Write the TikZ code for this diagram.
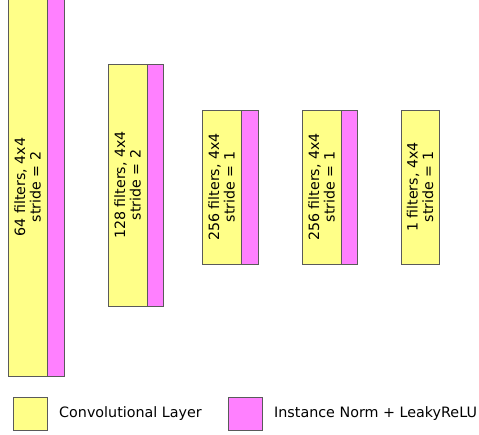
\documentclass[tikz,border=0pt]{standalone}
\usepackage{fontspec}
\setmainfont{DejaVu Sans}
\definecolor{convY}{RGB}{255,255,136}
\definecolor{normP}{RGB}{255,128,255}
\definecolor{edgeG}{RGB}{90,90,90}
\begin{document}
\begin{tikzpicture}[x=1pt,y=-1pt,
  box/.style={draw=edgeG,line width=0.8pt,inner sep=0pt,outer sep=0pt,anchor=north west},
  conv/.style={box,fill=convY},
  norm/.style={box,fill=normP},
  lbl/.style={rotate=90,align=center,font=\fontsize{14.2}{15.5}\selectfont,inner sep=0pt},
  legtxt/.style={anchor=west,font=\fontsize{14.3}{16}\selectfont,inner sep=0pt}]
\useasboundingbox (0,0) rectangle (479,435);
% layer 1
\node[conv,minimum width=39pt,minimum height=378pt] (c1) at (8,-2) {};
\node[norm,minimum width=17pt,minimum height=378pt] (n1) at (47,-2) {};
\node[lbl] (t1) at (c1.center) {64 filters, 4x4\\stride = 2};
% layer 2
\node[conv,minimum width=39pt,minimum height=242pt] (c2) at (108,64) {};
\node[norm,minimum width=16pt,minimum height=242pt] (n2) at (147,64) {};
\node[lbl] (t2) at (c2.center) {128 filters, 4x4\\stride = 2};
% layer 3
\node[conv,minimum width=39pt,minimum height=154pt] (c3) at (202,110) {};
\node[norm,minimum width=17pt,minimum height=154pt] (n3) at (241,110) {};
\node[lbl] (t3) at (c3.center) {256 filters, 4x4\\stride = 1};
% layer 4
\node[conv,minimum width=39pt,minimum height=154pt] (c4) at (302,110) {};
\node[norm,minimum width=16pt,minimum height=154pt] (n4) at (341,110) {};
\node[lbl] (t4) at (c4.center) {256 filters, 4x4\\stride = 1};
% layer 5
\node[conv,minimum width=38pt,minimum height=154pt] (c5) at (401,110) {};
\node[lbl] (t5) at (c5.center) {1 filters, 4x4\\stride = 1};
% legend
\node[conv,minimum width=34pt,minimum height=33pt] (lc) at (13,397) {};
\node[legtxt] (ltc) at (59,413.5) {Convolutional Layer};
\node[norm,minimum width=34pt,minimum height=33pt] (ln) at (228,397) {};
\node[legtxt] (ltn) at (274,413.5) {Instance Norm + LeakyReLU};
\end{tikzpicture}
\end{document}
